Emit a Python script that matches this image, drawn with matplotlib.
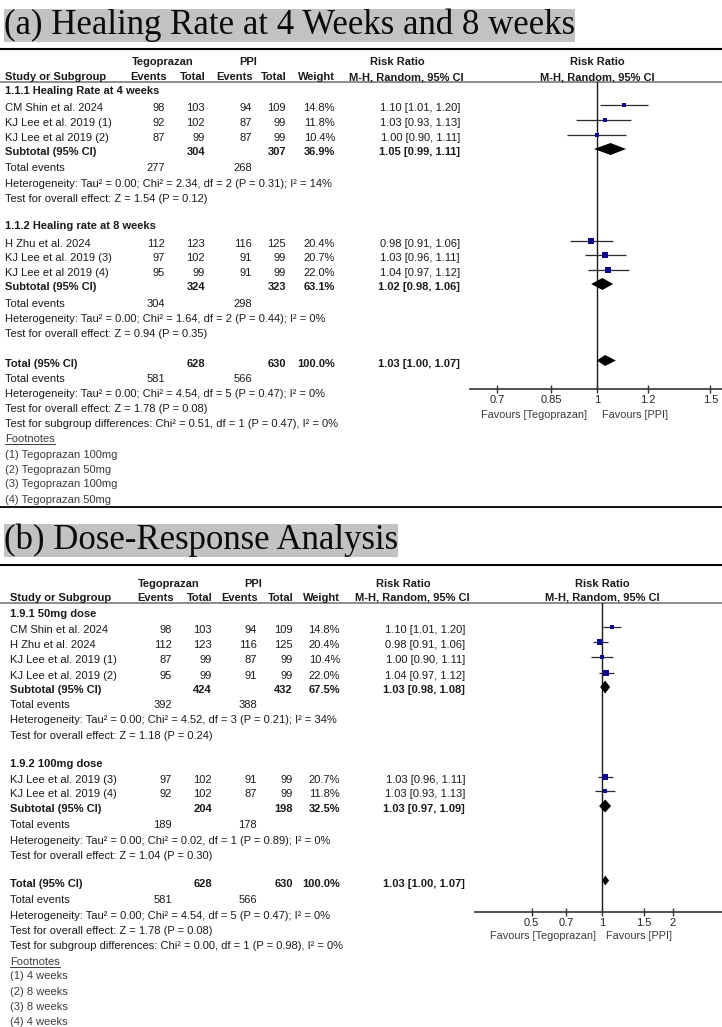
import matplotlib
matplotlib.use('Agg')
import matplotlib.pyplot as plt
from matplotlib.transforms import offset_copy
from matplotlib.ticker import NullLocator

W, H, DPI = 722, 1027, 100
plt.rcParams['font.family'] = ['Liberation Sans', 'DejaVu Sans']

# ------------------------- DATA : panel (a) -------------------------
a_title = "(a) Healing Rate at 4 Weeks and 8 weeks"
a_groups = ["1.1.1 Healing Rate at 4 weeks", "1.1.2 Healing rate at 8 weeks"]
a_group_sizes = [3, 3]
a_studies = ["CM Shin et al. 2024", "KJ Lee et al. 2019 (1)", "KJ Lee et al 2019 (2)",
             "H Zhu et al. 2024", "KJ Lee et al. 2019 (3)", "KJ Lee et al 2019 (4)"]
a_tego_events = [98, 92, 87, 112, 97, 95]
a_tego_total = [103, 102, 99, 123, 102, 99]
a_ppi_events = [94, 87, 87, 116, 91, 91]
a_ppi_total = [109, 99, 99, 125, 99, 99]
a_weight = [14.8, 11.8, 10.4, 20.4, 20.7, 22.0]
a_rr = [1.10, 1.03, 1.00, 0.98, 1.03, 1.04]
a_lo = [1.01, 0.93, 0.90, 0.91, 0.96, 0.97]
a_hi = [1.20, 1.13, 1.11, 1.06, 1.11, 1.12]
a_sub_tego_total = [304, 324]
a_sub_ppi_total = [307, 323]
a_sub_weight = [36.9, 63.1]
a_sub_rr = [1.05, 1.02]
a_sub_lo = [0.99, 0.98]
a_sub_hi = [1.11, 1.06]
a_sub_tego_events = [277, 304]
a_sub_ppi_events = [268, 298]
a_sub_het = ["Heterogeneity: Tau² = 0.00; Chi² = 2.34, df = 2 (P = 0.31); I² = 14%",
             "Heterogeneity: Tau² = 0.00; Chi² = 1.64, df = 2 (P = 0.44); I² = 0%"]
a_sub_test = ["Test for overall effect: Z = 1.54 (P = 0.12)",
              "Test for overall effect: Z = 0.94 (P = 0.35)"]
a_total = [628, 630, 100.0, 1.03, 1.00, 1.07]
a_total_events = [581, 566]
a_total_lines = ["Heterogeneity: Tau² = 0.00; Chi² = 4.54, df = 5 (P = 0.47); I² = 0%",
                 "Test for overall effect: Z = 1.78 (P = 0.08)",
                 "Test for subgroup differences: Chi² = 0.51, df = 1 (P = 0.47), I² = 0%"]
a_footnotes = ["(1) Tegoprazan 100mg", "(2) Tegoprazan 50mg",
               "(3) Tegoprazan 100mg", "(4) Tegoprazan 50mg"]
a_ticks = [0.7, 0.85, 1, 1.2, 1.5]
a_ticklabels = ["0.7", "0.85", "1", "1.2", "1.5"]

# ------------------------- DATA : panel (b) -------------------------
b_title = "(b) Dose-Response Analysis"
b_groups = ["1.9.1 50mg dose", "1.9.2 100mg dose"]
b_group_sizes = [4, 2]
b_studies = ["CM Shin et al. 2024", "H Zhu et al. 2024", "KJ Lee et al. 2019 (1)",
             "KJ Lee et al. 2019 (2)", "KJ Lee et al. 2019 (3)", "KJ Lee et al. 2019 (4)"]
b_tego_events = [98, 112, 87, 95, 97, 92]
b_tego_total = [103, 123, 99, 99, 102, 102]
b_ppi_events = [94, 116, 87, 91, 91, 87]
b_ppi_total = [109, 125, 99, 99, 99, 99]
b_weight = [14.8, 20.4, 10.4, 22.0, 20.7, 11.8]
b_rr = [1.10, 0.98, 1.00, 1.04, 1.03, 1.03]
b_lo = [1.01, 0.91, 0.90, 0.97, 0.96, 0.93]
b_hi = [1.20, 1.06, 1.11, 1.12, 1.11, 1.13]
b_sub_tego_total = [424, 204]
b_sub_ppi_total = [432, 198]
b_sub_weight = [67.5, 32.5]
b_sub_rr = [1.03, 1.03]
b_sub_lo = [0.98, 0.97]
b_sub_hi = [1.08, 1.09]
b_sub_tego_events = [392, 189]
b_sub_ppi_events = [388, 178]
b_sub_het = ["Heterogeneity: Tau² = 0.00; Chi² = 4.52, df = 3 (P = 0.21); I² = 34%",
             "Heterogeneity: Tau² = 0.00; Chi² = 0.02, df = 1 (P = 0.89); I² = 0%"]
b_sub_test = ["Test for overall effect: Z = 1.18 (P = 0.24)",
              "Test for overall effect: Z = 1.04 (P = 0.30)"]
b_total = [628, 630, 100.0, 1.03, 1.00, 1.07]
b_total_events = [581, 566]
b_total_lines = ["Heterogeneity: Tau² = 0.00; Chi² = 4.54, df = 5 (P = 0.47); I² = 0%",
                 "Test for overall effect: Z = 1.78 (P = 0.08)",
                 "Test for subgroup differences: Chi² = 0.00, df = 1 (P = 0.98), I² = 0%"]
b_footnotes = ["(1) 4 weeks", "(2) 8 weeks", "(3) 8 weeks", "(4) 4 weeks"]
b_ticks = [0.5, 0.7, 1, 1.5, 2]
b_ticklabels = ["0.5", "0.7", "1", "1.5", "2"]

# ------------------------- LAYOUT (pixel rows) -------------------------
layout_a = dict(
    title_y=25.5, rule_black=49, rule_grey=82, rule_bottom=507,
    h1=61, h2=76, name_x=5, cols=[165, 205, 252, 286, 335, 460],
    tego_c=163, ppi_c=248, rr_c=397, mh_c=406, forest_c=597,
    group_rows=[90, 225],
    study_rows=[[107, 122, 137], [243, 257, 272]],
    sub_rows=[151, 286], ev_rows=[167, 303], het_rows=[183, 318], test_rows=[198, 333],
    total_row=363, total_ev_row=378, total_line_rows=[393, 408, 423],
    foot_row=438, fn_rows=[454, 469, 483, 499],
    ax_left=470, ax_y=389, xlim=(0.636, 1.563), tick_y=400, fav_y=414,
    fav_gap=(-10, 5), diam_h=(12, 11),
)
layout_b = dict(
    title_y=540.5, rule_black=565, rule_grey=603, rule_bottom=None,
    h1=583, h2=597, name_x=10, cols=[172, 212, 257, 293, 340, 465],
    tego_c=169, ppi_c=253, rr_c=403, mh_c=412, forest_c=602,
    group_rows=[613, 763],
    study_rows=[[629, 644, 659, 675], [779, 793]],
    sub_rows=[689, 808], ev_rows=[704, 824], het_rows=[719, 840], test_rows=[735, 855],
    total_row=883, total_ev_row=899, total_line_rows=[915, 930, 945],
    foot_row=961, fn_rows=[975, 991, 1006, 1021],
    ax_left=475, ax_y=912, xlim=(0.287, 3.24), tick_y=922, fav_y=935,
    fav_gap=(-6, 4), diam_h=(13, 10),
)

FS = 8.0
TXT = '#1a1a1a'
FOOT = '#3c3c3c'

fig = plt.figure(figsize=(W / DPI, H / DPI), dpi=DPI)
fig.patch.set_facecolor('white')
ax_t = fig.add_axes([0, 0, 1, 1])
ax_t.set_xlim(0, W)
ax_t.set_ylim(H, 0)
ax_t.axis('off')

underline_targets = []


def txt(x, yc, s, ha='left', bold=False, color=TXT, size=FS):
    return ax_t.text(x, yc + 4, s, ha=ha, va='baseline', fontsize=size,
                     fontweight='bold' if bold else 'normal', color=color)


def draw_panel(title, groups, sizes, studies, te, tt, pe, pt, wt, rr, lo, hi,
               s_tt, s_pt, s_wt, s_rr, s_lo, s_hi, s_te, s_pe, s_het, s_test,
               total, total_ev, total_lines, footnotes, ticks, ticklabels, L):
    # title with grey background
    ax_t.text(4, L['title_y'], title, family=['Liberation Serif', 'DejaVu Serif'],
              fontsize=25, ha='left', va='center', color='#0a0a0a',
              bbox=dict(boxstyle='square,pad=0', fc='#c2c2c2', ec='none'))
    ax_t.plot([0, W], [L['rule_black']] * 2, color='black', lw=1.5, solid_capstyle='butt')
    ax_t.plot([0, W], [L['rule_grey']] * 2, color='#858585', lw=1.3, solid_capstyle='butt')
    if L['rule_bottom'] is not None:
        ax_t.plot([0, W], [L['rule_bottom']] * 2, color='black', lw=1.3, solid_capstyle='butt')

    c = L['cols']
    nx = L['name_x']
    # headers
    txt(L['tego_c'], L['h1'], 'Tegoprazan', ha='center', bold=True)
    txt(L['ppi_c'], L['h1'], 'PPI', ha='center', bold=True)
    txt(L['rr_c'], L['h1'], 'Risk Ratio', ha='center', bold=True)
    txt(L['forest_c'], L['h1'], 'Risk Ratio', ha='center', bold=True)
    txt(nx, L['h2'], 'Study or Subgroup', bold=True)
    txt(c[0] + 2, L['h2'], 'Events', ha='right', bold=True)
    txt(c[1] + 1, L['h2'], 'Total', ha='right', bold=True)
    txt(c[2] + 1, L['h2'], 'Events', ha='right', bold=True)
    txt(c[3] + 1, L['h2'], 'Total', ha='right', bold=True)
    txt(c[4], L['h2'], 'Weight', ha='right', bold=True)
    txt(L['mh_c'], L['h2'], 'M-H, Random, 95% CI', ha='center', bold=True)
    txt(L['forest_c'], L['h2'], 'M-H, Random, 95% CI', ha='center', bold=True)

    # forest axes
    x0, yb, yt = L['ax_left'], L['ax_y'], L['rule_grey']
    ax_f = fig.add_axes([x0 / W, 1 - yb / H, (W - x0) / W, (yb - yt) / H])
    ax_f.patch.set_visible(False)
    ax_f.set_xscale('log')
    ax_f.set_xlim(*L['xlim'])
    ax_f.set_ylim(yb, yt)
    for sp in ['left', 'right', 'top']:
        ax_f.spines[sp].set_visible(False)
    ax_f.spines['bottom'].set_color('#333333')
    ax_f.spines['bottom'].set_linewidth(1.2)
    ax_f.set_yticks([])
    ax_f.set_xticks(ticks)
    ax_f.set_xticklabels(ticklabels)
    ax_f.xaxis.set_minor_locator(NullLocator())
    ax_f.tick_params(axis='x', direction='inout', length=6, width=1.0, color='#333333',
                     labelsize=FS, labelcolor='#222222', pad=1.2)
    ax_f.axvline(1, color='#1a1a1a', lw=1.0, zorder=1)

    k = 0
    for g in range(len(groups)):
        txt(nx, L['group_rows'][g], groups[g], bold=True)
        for j in range(sizes[g]):
            y = L['study_rows'][g][j]
            txt(nx, y, studies[k])
            txt(c[0], y, str(te[k]), ha='right')
            txt(c[1], y, str(tt[k]), ha='right')
            txt(c[2], y, str(pe[k]), ha='right')
            txt(c[3], y, str(pt[k]), ha='right')
            txt(c[4], y, f"{wt[k]:.1f}%", ha='right')
            txt(c[5], y, f"{rr[k]:.2f} [{lo[k]:.2f}, {hi[k]:.2f}]", ha='right')
            ym = y - 2
            ax_f.hlines(ym, lo[k], hi[k], color='#2a2a2a', lw=0.9, zorder=2)
            side_px = 0.24 * wt[k] + 0.6
            ax_f.scatter([rr[k]], [ym], marker='s', s=(side_px * 72 / DPI) ** 2,
                         color='#0a0a8a', linewidths=0, zorder=3)
            k += 1
        ys = L['sub_rows'][g]
        txt(nx, ys, 'Subtotal (95% CI)', bold=True)
        txt(c[1], ys, str(s_tt[g]), ha='right', bold=True)
        txt(c[3], ys, str(s_pt[g]), ha='right', bold=True)
        txt(c[4], ys, f"{s_wt[g]:.1f}%", ha='right', bold=True)
        txt(c[5], ys, f"{s_rr[g]:.2f} [{s_lo[g]:.2f}, {s_hi[g]:.2f}]", ha='right', bold=True)
        h = L['diam_h'][0]
        yd = ys - 2
        ax_f.fill([s_lo[g], s_rr[g], s_hi[g], s_rr[g]], [yd, yd - h / 2, yd, yd + h / 2],
                  color='black', lw=0, zorder=3)
        txt(nx, L['ev_rows'][g], 'Total events')
        txt(c[0], L['ev_rows'][g], str(s_te[g]), ha='right')
        txt(c[2], L['ev_rows'][g], str(s_pe[g]), ha='right')
        txt(nx, L['het_rows'][g], s_het[g])
        txt(nx, L['test_rows'][g], s_test[g])

    yt_ = L['total_row']
    txt(nx, yt_, 'Total (95% CI)', bold=True)
    txt(c[1], yt_, str(total[0]), ha='right', bold=True)
    txt(c[3], yt_, str(total[1]), ha='right', bold=True)
    txt(c[4], yt_, f"{total[2]:.1f}%", ha='right', bold=True)
    txt(c[5], yt_, f"{total[3]:.2f} [{total[4]:.2f}, {total[5]:.2f}]", ha='right', bold=True)
    h = L['diam_h'][1]
    yd = yt_ - 2.5
    ax_f.fill([total[4], total[3], total[5], total[3]], [yd, yd - h / 2, yd, yd + h / 2],
              color='black', lw=0, zorder=3)
    txt(nx, L['total_ev_row'], 'Total events')
    txt(c[0], L['total_ev_row'], str(total_ev[0]), ha='right')
    txt(c[2], L['total_ev_row'], str(total_ev[1]), ha='right')
    for s, y in zip(total_lines, L['total_line_rows']):
        txt(nx, y, s)
    ft = txt(nx, L['foot_row'], 'Footnotes', color=FOOT)
    underline_targets.append((ft, L['foot_row'] + 6))
    for s, y in zip(footnotes, L['fn_rows']):
        txt(nx, y, s, color=FOOT)

    # favours labels
    g0, g1 = L['fav_gap']
    tl = offset_copy(ax_f.transData, fig=fig, x=g0, y=0, units='dots')
    tr = offset_copy(ax_f.transData, fig=fig, x=g1, y=0, units='dots')
    ax_f.text(1, L['fav_y'] + 4, 'Favours [Tegoprazan]', transform=tl, ha='right',
              va='baseline', fontsize=7.8, color='#3a3a3a', clip_on=False)
    ax_f.text(1, L['fav_y'] + 4, 'Favours [PPI]', transform=tr, ha='left',
              va='baseline', fontsize=7.8, color='#3a3a3a', clip_on=False)


draw_panel(a_title, a_groups, a_group_sizes, a_studies, a_tego_events, a_tego_total,
           a_ppi_events, a_ppi_total, a_weight, a_rr, a_lo, a_hi,
           a_sub_tego_total, a_sub_ppi_total, a_sub_weight, a_sub_rr, a_sub_lo, a_sub_hi,
           a_sub_tego_events, a_sub_ppi_events, a_sub_het, a_sub_test,
           a_total, a_total_events, a_total_lines, a_footnotes, a_ticks, a_ticklabels,
           layout_a)
draw_panel(b_title, b_groups, b_group_sizes, b_studies, b_tego_events, b_tego_total,
           b_ppi_events, b_ppi_total, b_weight, b_rr, b_lo, b_hi,
           b_sub_tego_total, b_sub_ppi_total, b_sub_weight, b_sub_rr, b_sub_lo, b_sub_hi,
           b_sub_tego_events, b_sub_ppi_events, b_sub_het, b_sub_test,
           b_total, b_total_events, b_total_lines, b_footnotes, b_ticks, b_ticklabels,
           layout_b)

# underline "Footnotes"
fig.canvas.draw()
r = fig.canvas.get_renderer()
inv = ax_t.transData.inverted()
for t, yu in underline_targets:
    bb = t.get_window_extent(r)
    (xa, _), (xb, _) = inv.transform([[bb.x0, bb.y0], [bb.x1, bb.y1]])
    ax_t.plot([xa, xb], [yu, yu], color=FOOT, lw=0.7)

fig.savefig('out.png', dpi=DPI, facecolor='white')
